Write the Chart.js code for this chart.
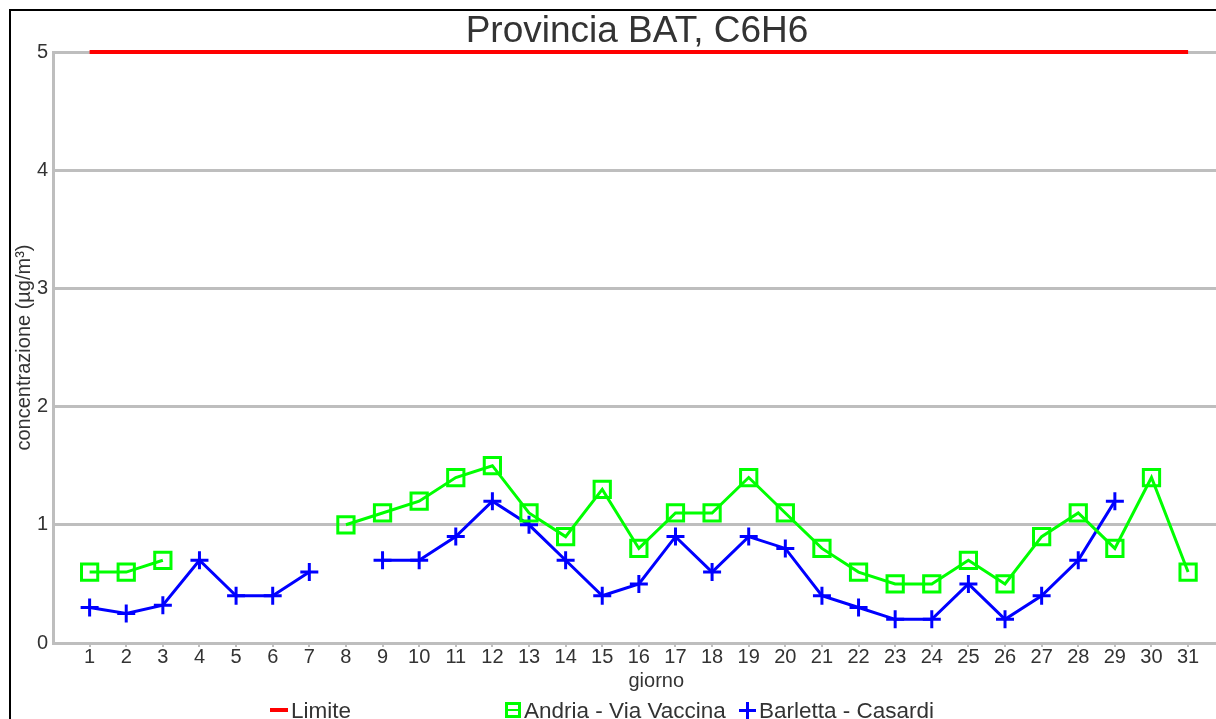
<!DOCTYPE html>
<html>
<head>
<meta charset="utf-8">
<script src="https://cdn.jsdelivr.net/npm/chart.js@4.4.0/dist/chart.umd.min.js"></script>
<style>
  html, body { margin: 0; padding: 0; background: #fff; overflow: hidden; }
  #wrap { position: relative; width: 1216px; height: 719px; overflow: hidden; }
  #chart { position: absolute; left: 0; top: 0; }
  #frame { position: absolute; left: 9px; top: 9px; width: 1300px; height: 800px; border-left: 2px solid #000; border-top: 2px solid #000; pointer-events: none; }
  #legend { position: absolute; top: 698px; left: 0; width: 1216px; height: 24px; font: 22.5px "Liberation Sans", Arial, sans-serif; color: #333; }
  .item { position: absolute; top: 0; white-space: nowrap; }
  .key { display: inline-block; position: relative; vertical-align: middle; margin-right: 3px; }
</style>
</head>
<body>
<div id="wrap">
  <canvas id="chart" width="1274" height="719"></canvas>
  <div id="frame"></div>
  <div id="legend">
    <div class="item" style="left:270px"><span class="key" style="width:18px;height:4px;background:#ff0000;top:-2px"></span>Limite</div>
    <div class="item" style="left:505px"><span class="key" style="width:10px;height:10px;border:3px solid #00ff00;top:-2px"><span style="position:absolute;left:0;top:4px;width:10px;height:2px;background:#00ff00"></span></span>Andria - Via Vaccina</div>
    <div class="item" style="left:739px"><span class="key" style="width:17px;height:17px;top:-2px"><span style="position:absolute;left:0;top:7px;width:17px;height:3px;background:#0000ff"></span><span style="position:absolute;left:7px;top:0;width:3px;height:17px;background:#0000ff"></span></span>Barletta - Casardi</div>
  </div>
</div>
<script>
// giorni del mese
const days = [1,2,3,4,5,6,7,8,9,10,11,12,13,14,15,16,17,18,19,20,21,22,23,24,25,26,27,28,29,30,31];
const limite = [5,5,5,5,5,5,5,5,5,5,5,5,5,5,5,5,5,5,5,5,5,5,5,5,5,5,5,5,5,5,5];
const andria = [0.6,0.6,0.7,null,null,null,null,1.0,1.1,1.2,1.4,1.5,1.1,0.9,1.3,0.8,1.1,1.1,1.4,1.1,0.8,0.6,0.5,0.5,0.7,0.5,0.9,1.1,0.8,1.4,0.6];
const barletta = [0.3,0.25,0.32,0.7,0.4,0.4,0.6,null,0.7,0.7,0.9,1.2,1.0,0.7,0.4,0.5,0.9,0.6,0.9,0.8,0.4,0.3,0.2,0.2,0.5,0.2,0.4,0.7,1.2,null,null];
const yTicks = [0,1,2,3,4,5];

function toPoints(arr) {
  return days.map((d, i) => ({ x: d, y: arr[i] }));
}

const FONT = '"Liberation Sans", Arial, sans-serif';
const TEXT = '#333333';
const GRID = '#bebebe';

const ctx = document.getElementById('chart').getContext('2d');
const chart = new Chart(ctx, {
  type: 'line',
  data: {
    datasets: [
      {
        label: 'Limite',
        data: toPoints(limite),
        borderColor: '#ff0000',
        borderWidth: 4,
        pointRadius: 0,
        clip: false,
        tension: 0
      },
      {
        label: 'Andria - Via Vaccina',
        data: toPoints(andria),
        borderColor: '#00ff00',
        borderWidth: 3,
        pointStyle: 'rect',
        pointRadius: 11.5,
        pointBorderWidth: 3,
        pointBackgroundColor: 'rgba(0,0,0,0)',
        pointBorderColor: '#00ff00',
        spanGaps: false,
        tension: 0
      },
      {
        label: 'Barletta - Casardi',
        data: toPoints(barletta),
        borderColor: '#0000ff',
        borderWidth: 3,
        pointStyle: 'cross',
        pointRadius: 9,
        pointBorderWidth: 3,
        pointBorderColor: '#0000ff',
        spanGaps: false,
        tension: 0
      }
    ]
  },
  options: {
    responsive: false,
    animation: false,
    layout: { padding: { left: 0, right: 0, top: 13, bottom: 26 } },
    plugins: {
      legend: { display: false },
      tooltip: { enabled: false },
      title: {
        display: true,
        text: 'Provincia BAT, C6H6',
        color: TEXT,
        font: { family: FONT, size: 37, weight: 'normal', lineHeight: 1 },
        padding: { top: 0, bottom: 2 }
      }
    },
    scales: {
      x: {
        type: 'linear',
        min: 0,
        max: 32.95,
        afterBuildTicks: axis => { axis.ticks = days.map(d => ({ value: d })); },
        ticks: { color: TEXT, font: { family: FONT, size: 20 }, padding: -2, autoSkip: false, maxRotation: 0 },
        grid: { display: true, drawOnChartArea: false, drawTicks: true, tickLength: 4, color: GRID, lineWidth: 2 },
        border: { display: true, color: GRID, width: 3 },
        title: { display: true, text: 'giorno', color: TEXT, font: { family: FONT, size: 20 }, padding: { top: 2, bottom: 0 } }
      },
      y: {
        min: 0,
        max: 5,
        afterBuildTicks: axis => { axis.ticks = yTicks.map(v => ({ value: v })); },
        afterFit: axis => { axis.width = 53; },
        ticks: { color: TEXT, font: { family: FONT, size: 20 }, padding: 5 },
        grid: { color: GRID, lineWidth: 3, drawTicks: false },
        border: { display: true, color: GRID, width: 3 },
        title: { display: true, text: 'concentrazione (µg/m³)', color: TEXT, font: { family: FONT, size: 20, lineHeight: 1 }, padding: { top: 14, bottom: 0 } }
      }
    }
  }
});
</script>
</body>
</html>
